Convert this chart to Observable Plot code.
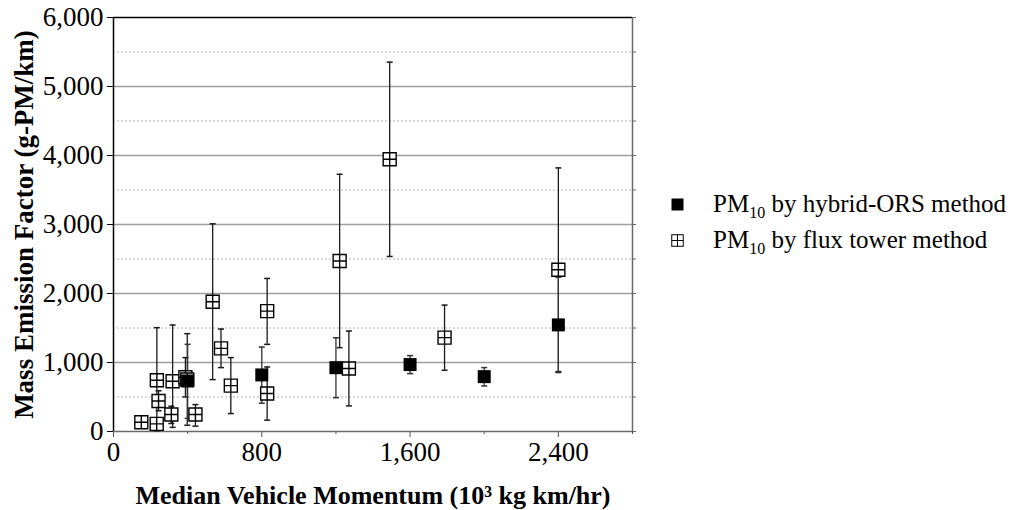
<!DOCTYPE html>
<html><head><meta charset="utf-8">
<script src="https://cdn.jsdelivr.net/npm/d3@7"></script>
<script src="https://cdn.jsdelivr.net/npm/@observablehq/plot@0.6"></script>
<style>
body{margin:0;background:#fff;}
#wrap{position:relative;width:1024px;height:510px;font-family:"Liberation Serif","Times New Roman",serif;}
#wrap svg.plot{position:absolute;left:0;top:0;}
g[aria-label="x-axis label"] text{font-weight:bold;font-size:26px;}
g[aria-label="y-axis label"] text{font-weight:bold;font-size:27px;}
#legend{position:absolute;left:671px;top:186px;font-size:25px;color:#000;line-height:36px;}
#legend, #legend *{font-family:"Liberation Serif","Times New Roman",serif !important;}
#legend .row{display:flex;align-items:center;height:36px;}
#legend .row svg{width:13px;height:13px;margin-right:29px;flex:none;}
#legend sub{font-size:16px;vertical-align:-6px;line-height:0;}
</style></head><body><div id="wrap"></div>
<script>
// Series names
const seriesNames = ["hybrid-ORS method", "flux tower method"];
// PM10 by hybrid-ORS method
const hybridX  = [400, 800, 1200, 1600, 2000, 2400];
const hybridY  = [732, 820, 925, 970, 795, 1545];
const hybridLo = [190, 410, 490, 839, 660, 854];
const hybridHi = [1263, 1224, 1358, 1100, 926, 2236];
// PM10 by flux tower method
const fluxX  = [150, 233, 234, 243, 312, 319, 388, 398, 442, 535, 580, 633, 829, 829, 1220, 1270, 1490, 1786, 2400];
const fluxY  = [135, 110, 742, 443, 246, 728, 786, 754, 246, 1880, 1205, 665, 1745, 550, 2470, 913, 3945, 1360, 2344];
const fluxLo = [52, 19, 10, 300, 116, 60, 501, 91, 77, 752, 926, 260, 1263, 164, 1215, 371, 2537, 887, 868];
const fluxHi = [221, 188, 1505, 590, 366, 1543, 1071, 1418, 390, 3010, 1485, 1071, 2218, 935, 3728, 1456, 5353, 1832, 3820];
// Axis ticks
const xMajorTicks = [0, 800, 1600, 2400];
const xMinorTicks = [400, 1200, 2000, 2800];
const yMajorTicks = [0, 1000, 2000, 3000, 4000, 5000, 6000];
const yMinorTicks = [500, 1500, 2500, 3500, 4500, 5500];
const gridMajor = [1000, 2000, 3000, 4000, 5000];
const gridMinor = [500, 1500, 2500, 3500, 4500, 5500];

const hybrid = hybridX.map((x, i) => ({x, y: hybridY[i], lo: hybridLo[i], hi: hybridHi[i]}));
const flux = fluxX.map((x, i) => ({x, y: fluxY[i], lo: fluxLo[i], hi: fluxHi[i]}));

const capSym = {draw(ctx, size) { const w = Math.sqrt(size) / 2; ctx.moveTo(-w, 0); ctx.lineTo(w, 0); }};
const squareSym = {draw(ctx, size) { const s = Math.sqrt(size) / 2; ctx.rect(-s, -s, 2 * s, 2 * s); }};
const crossSym = {draw(ctx, size) {
  const s = Math.sqrt(size) / 2;
  ctx.rect(-s, -s, 2 * s, 2 * s);
  ctx.moveTo(-s, 0); ctx.lineTo(s, 0);
  ctx.moveTo(0, -s); ctx.lineTo(0, s);
}};
const side = 13 / Math.sqrt(Math.PI);
const capR = 6 / Math.sqrt(Math.PI);

const errMarks = (data, stroke) => [
  Plot.ruleX(data, {x: "x", y1: "lo", y2: "hi", stroke, strokeWidth: 1.3}),
  Plot.dot(data, {x: "x", y: "lo", symbol: capSym, r: capR, stroke, strokeWidth: 1.5}),
  Plot.dot(data, {x: "x", y: "hi", symbol: capSym, r: capR, stroke, strokeWidth: 1.5})
];

const chart = Plot.plot({
  width: 1024, height: 510,
  marginLeft: 113, marginRight: 392, marginTop: 17, marginBottom: 79,
  x: {domain: [0, 2800]},
  y: {domain: [0, 6000]},
  style: {fontFamily: "'Liberation Serif', 'Times New Roman', serif", fontSize: "27px", color: "#000", background: "transparent", overflow: "visible"},
  marks: [
    Plot.ruleY(gridMinor, {stroke: "#b4b4b4", strokeDasharray: "2,2", strokeWidth: 1}),
    Plot.ruleY(gridMajor, {stroke: "#9e9e9e", strokeWidth: 1.6}),
    Plot.axisX({ticks: xMinorTicks, tickSize: 3, tickFormat: () => "", label: null, stroke: "#555"}),
    Plot.axisX({ticks: xMajorTicks, tickSize: 6, tickPadding: 4, tickFormat: d3.format(","), stroke: "#555",
      label: "Median Vehicle Momentum (10³ kg km/hr)", labelAnchor: "center", labelOffset: 72, labelArrow: "none"}),
    Plot.axisY({ticks: yMajorTicks, tickSize: 6, tickPadding: 4, tickFormat: d3.format(","), stroke: "#000",
      label: "Mass Emission Factor (g-PM/km)", labelAnchor: "center", labelOffset: 100, labelArrow: "none"}),
    Plot.axisY({ticks: yMajorTicks.concat(yMinorTicks), anchor: "right", tickSize: 3, tickFormat: () => "", label: null, stroke: "#666"}),
    Plot.ruleY([0], {stroke: "#6a6a6a", strokeWidth: 1.5}),
    Plot.ruleY([6000], {stroke: "#000", strokeWidth: 1.5}),
    Plot.ruleX([2800], {stroke: "#6a6a6a", strokeWidth: 1.5}),
    Plot.ruleX([0], {stroke: "#000", strokeWidth: 1.5}),
    ...errMarks(flux, "#1a1a1a"),
    ...errMarks(hybrid, "#333"),
    Plot.dot(flux, {x: "x", y: "y", symbol: crossSym, r: side, fill: "#fff", stroke: "#000", strokeWidth: 1.4}),
    Plot.dot(hybrid, {x: "x", y: "y", symbol: squareSym, r: side, fill: "#000", stroke: "none"})
  ]
});
const wrap = document.getElementById("wrap");
wrap.appendChild(chart);

const legend = document.createElement("div");
legend.id = "legend";
const icons = [
  '<svg viewBox="0 0 13 13"><rect x="0.5" y="0.5" width="12" height="12" fill="#000"/></svg>',
  '<svg viewBox="0 0 13 13"><rect x="0.75" y="0.75" width="11.5" height="11.5" fill="#fff" stroke="#000" stroke-width="1"/><path d="M0.75 6.5H12.25M6.5 0.75V12.25" stroke="#000" stroke-width="1"/></svg>'
];
seriesNames.forEach((name, i) => {
  const row = document.createElement("div");
  row.className = "row";
  row.innerHTML = icons[i] + '<span>PM<sub>10</sub> by ' + name + '</span>';
  legend.appendChild(row);
});
wrap.appendChild(legend);
</script>
</body></html>
